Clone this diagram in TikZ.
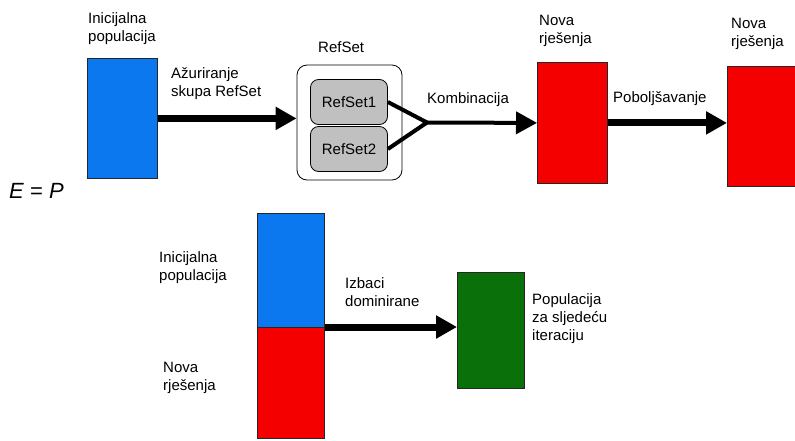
\documentclass[tikz,border=0pt]{standalone}
\usepackage{fontspec}
\setmainfont{Liberation Sans}
\usetikzlibrary{arrows.meta}
\definecolor{popblue}{RGB}{12,120,240}
\definecolor{popred}{RGB}{245,0,0}
\definecolor{popgreen}{RGB}{10,112,10}
\definecolor{setgray}{RGB}{192,192,192}

\begin{document}
\begin{tikzpicture}[x=1pt, y=-1pt, font=\fontsize{15}{18}\selectfont,
  pop/.style={draw=black!85, line width=0.8pt, anchor=north west, inner sep=0pt},
  txt/.style={anchor=north west, align=left, inner sep=0pt},
  setbox/.style={draw, fill=setgray, line width=0.8pt, rounded corners=8pt,
    minimum width=77pt, minimum height=45pt, inner sep=0pt},
  flow/.style={line width=7pt, -{Triangle[length=21pt,width=22pt]}},
  thinflow/.style={line width=4pt, -{Triangle[length=21pt,width=22pt]}}]
\useasboundingbox (0,0) rectangle (795,440);

% gornji red: pocetna populacija -> RefSet -> nova rjesenja
\node[pop, fill=popblue, minimum width=70pt, minimum height=120pt] (init) at (87,58) {};
\node[txt] (initlbl) at (88,12) {Inicijalna\\populacija};

\node[draw, line width=0.8pt, rounded corners=10pt, minimum width=105pt,
  minimum height=115pt] (refset) at (349.5,122.5) {};
\node[txt] (refsetlbl) at (318,41) {RefSet};
\node[setbox] (set1) at (349,102) {RefSet1};
\node[setbox] (set2) at (349,149) {RefSet2};
\coordinate (apex) at (427,122.5);

\node[pop, fill=popred, minimum width=70pt, minimum height=121pt] (new1) at (537,62) {};
\node[txt] (new1lbl) at (539,15) {Nova\\rješenja};
\node[pop, fill=popred, minimum width=70pt, minimum height=120pt] (new2) at (727,66) {};
\node[txt] (new2lbl) at (731,18) {Nova\\rješenja};

\draw[flow] (init.east) -- (init.east -| refset.west);
\node[txt] (updlbl) at (171,67) {Ažuriranje\\skupa RefSet};

\draw[line width=4pt, line join=miter] (set1.east) -- (apex) -- (set2.east);
\draw[thinflow] (apex) -- (new1.west);
\node[txt] (comblbl) at (427,92) {Kombinacija};

\draw[flow] (new1.east) -- (new1.east -| new2.west);
\node[txt] (implbl) at (613,91) {Poboljšavanje};

\node[txt, font=\fontsize{22}{22}\selectfont] (eqp) at (9,183) {\textit{E} = \textit{P}};

% donji red: unija -> populacija za sljedecu iteraciju
\node[pop, fill=popblue, minimum width=67pt, minimum height=114pt] (init2) at (257,213) {};
\node[pop, fill=popred, minimum width=67pt, minimum height=111pt] (new3) at (257,327) {};
\node[txt] (init2lbl) at (159,251) {Inicijalna\\populacija};
\node[txt] (new3lbl) at (163,362) {Nova\\rješenja};

\node[pop, fill=popgreen, minimum width=67pt, minimum height=116pt] (next) at (457,272) {};
\draw[flow] (new3.north east) -- (new3.north east -| next.west);
\node[txt] (droplbl) at (345,277) {Izbaci\\dominirane};
\node[txt] (nextlbl) at (532,293) {Populacija\\za sljedeću\\iteraciju};
\end{tikzpicture}
\end{document}
